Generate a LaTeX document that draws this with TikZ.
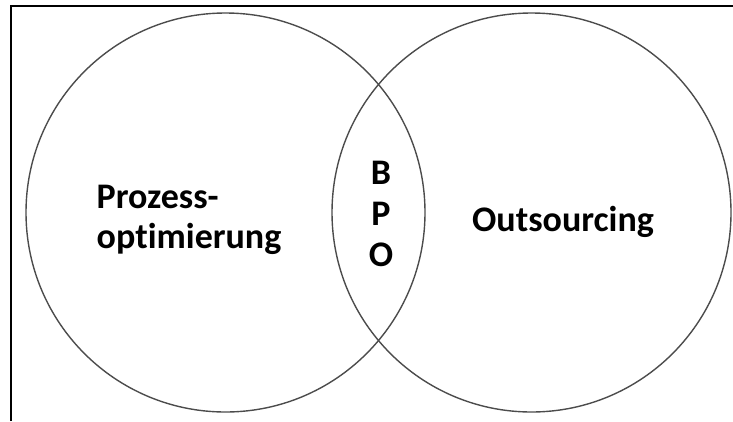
\documentclass[tikz,border=0pt]{standalone}
\usepackage{fontspec}
\setmainfont[Ligatures=NoCommon]{Carlito}
\usetikzlibrary{positioning}

\begin{document}
\begin{tikzpicture}[x=1pt, y=-1pt]
\tikzstyle{set} = [circle, draw=black!70, line width=1.4pt, minimum size=399pt, inner sep=0pt]
\tikzstyle{label} = [font=\bfseries\fontsize{36}{40}\selectfont, inner sep=0pt]
\tikzstyle{frame} = [draw=black, line width=1.3pt]

\useasboundingbox (0,0) rectangle (733,421);
\draw[frame] (11,421) -- (11,6) -- (733,6);

\node[set] (prozess) at (225.5,212.5) {};
\node[set] (outsourcing) at (531.5,212.5) {};

\node[label, align=left] (prozesstext) at (189,220) {Prozess-\\optimierung};
\node[label] (outsourcingtext) at (563,222) {Outsourcing};
\node[label, align=center, font=\bfseries\fontsize{36}{41}\selectfont] (bpo) at (381,214) {B\\P\\O};
\end{tikzpicture}
\end{document}
